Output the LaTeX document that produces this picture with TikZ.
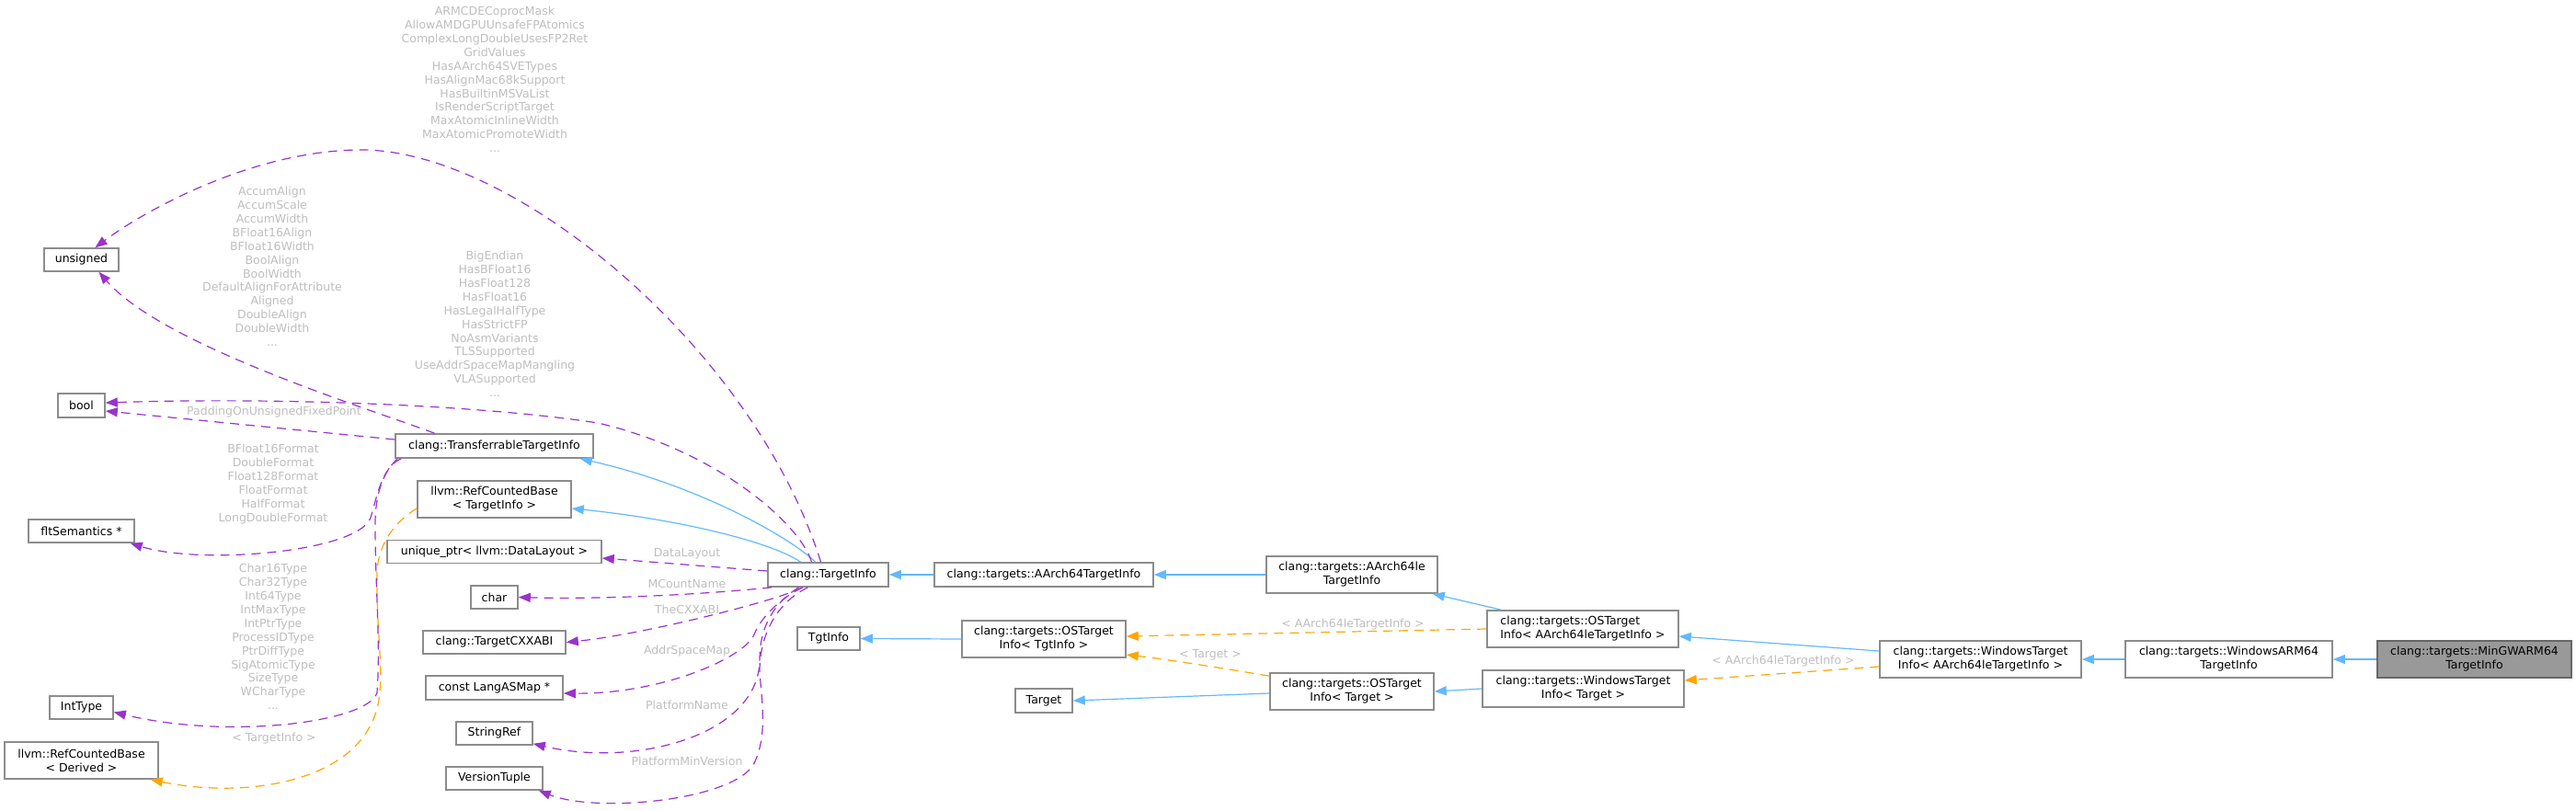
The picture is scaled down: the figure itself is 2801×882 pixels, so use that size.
\documentclass[tikz,border=0pt]{standalone}
\usepackage{fontspec}
\setmainfont{DejaVu Sans}
\usepackage{xcolor}
\usepackage{tikz}
\usetikzlibrary{arrows.meta}
\definecolor{EdgeBlue}{HTML}{63B8FF}
\definecolor{EdgeOrange}{HTML}{FFA500}
\definecolor{EdgePurple}{HTML}{9A32CD}
\definecolor{LabelGrey}{HTML}{BEBEBE}
\definecolor{BoxGrey}{HTML}{8C8C8C}
\definecolor{MainFill}{HTML}{999999}
\definecolor{MainEdge}{HTML}{666666}

\tikzset{
  cls/.style={draw=BoxGrey,fill=white,line width=1.6pt,inner sep=0pt,align=center,font=\fontsize{12.5}{15}\selectfont},
  mainnode/.style={cls,draw=MainEdge,fill=MainFill},
  lbl/.style={text=LabelGrey,inner sep=0pt,align=center,font=\fontsize{12.5}{14.9}\selectfont},
  inh/.style={EdgeBlue,line width=1.2pt,-{Triangle[length=13pt,width=10pt]}},
  tpl/.style={EdgeOrange,line width=1.2pt,dash pattern=on 10pt off 7pt,-{Triangle[length=13pt,width=10pt]}},
  usage/.style={EdgePurple,line width=1.2pt,dash pattern=on 10pt off 7pt,-{Triangle[length=13pt,width=10pt]}}
}

\begin{document}
\begin{tikzpicture}[x=1pt,y=-1pt]
  \useasboundingbox (0,0) rectangle (2801,882);

  % used types, left column
  \node[cls,minimum width=81pt,minimum height=25pt] (unsgn) at (88.5,282.5) {unsigned};
  \node[cls,minimum width=51pt,minimum height=26pt] (bool) at (88.5,441) {bool};
  \node[cls,minimum width=115pt,minimum height=25pt] (flt) at (88.5,577.5) {fltSemantics *};
  \node[cls,minimum width=69pt,minimum height=25pt] (inttype) at (88.5,769.5) {IntType};
  \node[cls,minimum width=167pt,minimum height=40pt] (rcbd) at (88.5,827) {llvm::RefCountedBase\\< Derived >};

  % middle column
  \node[cls,minimum width=215pt,minimum height=26pt] (transf) at (537.5,485) {clang::TransferrableTargetInfo};
  \node[cls,minimum width=167pt,minimum height=40pt] (rcbt) at (537.5,543) {llvm::RefCountedBase\\< TargetInfo >};
  \node[cls,minimum width=233pt,minimum height=25pt] (uptr) at (537.5,600) {unique\_ptr< llvm::DataLayout >};
  \node[cls,minimum width=51pt,minimum height=25pt] (chr) at (537.5,649.5) {char};
  \node[cls,minimum width=155pt,minimum height=25pt] (cxxabi) at (537.5,698.5) {clang::TargetCXXABI};
  \node[cls,minimum width=149pt,minimum height=26pt] (langas) at (537.5,748) {const LangASMap *};
  \node[cls,minimum width=83pt,minimum height=25pt] (strref) at (537.5,797.5) {StringRef};
  \node[cls,minimum width=105pt,minimum height=25pt] (vtuple) at (537.5,846.5) {VersionTuple};

  % class chain
  \node[cls,minimum width=131pt,minimum height=26pt] (tinfo) at (900.5,625) {clang::TargetInfo};
  \node[cls,minimum width=68pt,minimum height=25pt] (tgtinfo) at (901,694.5) {TgtInfo};
  \node[cls,minimum width=238pt,minimum height=26pt] (a64) at (1135,625) {clang::targets::AArch64TargetInfo};
  \node[cls,minimum width=178pt,minimum height=40pt] (ostt) at (1135,695) {clang::targets::OSTarget\\Info< TgtInfo >};
  \node[cls,minimum width=62pt,minimum height=26pt] (target) at (1135,762) {Target};
  \node[cls,minimum width=186pt,minimum height=40pt] (a64le) at (1470,625) {clang::targets::AArch64le\\TargetInfo};
  \node[cls,minimum width=178pt,minimum height=40pt] (ostg) at (1470,752) {clang::targets::OSTarget\\Info< Target >};
  \node[cls,align=left,minimum width=208pt,minimum height=40pt] (osta) at (1721,684) {clang::targets::OSTarget\\Info< AArch64leTargetInfo >};
  \node[cls,minimum width=219pt,minimum height=40pt] (wing) at (1721.5,749) {clang::targets::WindowsTarget\\Info< Target >};
  \node[cls,minimum width=219pt,minimum height=40pt] (wina) at (2153.5,717) {clang::targets::WindowsTarget\\Info< AArch64leTargetInfo >};
  \node[cls,minimum width=225pt,minimum height=40pt] (warm) at (2423.5,717) {clang::targets::WindowsARM64\\TargetInfo};
  \node[mainnode,minimum width=211pt,minimum height=40pt] (mingw) at (2690.5,717) {clang::targets::MinGWARM64\\TargetInfo};

  % inheritance
  \draw[inh] (a64.west) -- (tinfo.east);
  \draw[inh] (a64le.west) -- (a64.east);
  \draw[inh] ([xshift=16pt]osta.north west) -- ([xshift=-6pt]a64le.south east);
  \draw[inh] ([yshift=9pt]wina.west) -- ([yshift=-8pt]osta.east);
  \draw[inh] (warm.west) -- (wina.east);
  \draw[inh] (mingw.west) -- (warm.east);
  \draw[inh] (ostt.west) -- (tgtinfo.east);
  \draw[inh] ([yshift=-2pt]ostg.west) -- (target.east);
  \draw[inh] (wing.west) -- (ostg.east);
  \draw[inh] ([xshift=-14pt]tinfo.north) .. controls (860,585) and (760,528) .. ([xshift=-15pt]transf.south east);
  \draw[inh] ([xshift=-30pt]tinfo.north) .. controls (840,590) and (740,565) .. ([yshift=-10pt]rcbt.east);

  % template instances
  \draw[tpl] ([yshift=-10pt]rcbt.west) .. controls (425,570) and (412,595) .. (410,620)
    .. controls (409,680) and (416,720) .. (413,753)
    .. controls (405,850) and (270,870) .. ([xshift=-9pt]rcbd.south east);
  \draw[tpl] (osta.west) -- ([yshift=3pt]ostt.east);
  \draw[tpl] ([yshift=-4pt]ostg.north west) .. controls (1320,725) and (1260,716) .. ([yshift=-17pt]ostt.east);
  \draw[tpl] ([yshift=-8pt]wina.west) -- ([yshift=9pt]wing.east);

  % members
  \draw[usage] ([xshift=-8pt]tinfo.north) .. controls (820,380) and (560,163) .. (393,163)
    .. controls (280,163) and (163,225) .. ([xshift=15pt]unsgn.north);
  \draw[usage] ([xshift=-65pt]transf.north) .. controls (403,445) and (177,376) .. ([xshift=19pt]unsgn.south);
  \draw[usage] ([xshift=-18pt]tinfo.north) .. controls (870,570) and (780,490) .. (650,460)
    .. controls (520,440) and (300,432) .. ([yshift=3pt]bool.east);
  \draw[usage] ([yshift=7pt]transf.west) -- ([yshift=-6pt]bool.east);
  \draw[usage] ([xshift=7pt]transf.south west) .. controls (415,508) and (410,540) .. (403,563)
    .. controls (390,600) and (220,615) .. ([xshift=-5pt]flt.south east);
  \draw[usage] ([xshift=3pt]transf.south west) .. controls (415,515) and (408,540) .. (408,570)
    .. controls (408,640) and (414,700) .. (410,753)
    .. controls (402,785) and (250,805) .. ([yshift=-5pt]inttype.east);
  \draw[usage] ([yshift=4pt]tinfo.west) -- ([yshift=-7pt]uptr.east);
  \draw[usage] ([xshift=5pt]tinfo.south west) .. controls (760,647) and (650,652) .. (chr.east);
  \draw[usage] ([xshift=-28pt]tinfo.south) .. controls (850,652) and (700,690) .. (cxxabi.east);
  \draw[usage] ([xshift=-28pt]tinfo.south) .. controls (850,650) and (828,670) .. (820,690)
    .. controls (810,715) and (720,755) .. ([yshift=-6pt]langas.east);
  \draw[usage] ([xshift=-32pt]tinfo.south) .. controls (835,660) and (826,690) .. (826,717)
    .. controls (826,800) and (690,835) .. ([yshift=2pt]strref.south east);
  \draw[usage] ([xshift=-22pt]tinfo.south) .. controls (845,655) and (826,690) .. (826,730)
    .. controls (828,760) and (835,800) .. (820,830)
    .. controls (800,870) and (650,885) .. ([xshift=-5pt]vtuple.south east);

  % labels
  \node[lbl,anchor=north] (l-unsgn) at (538,7) {ARMCDECoprocMask\\AllowAMDGPUUnsafeFPAtomics\\ComplexLongDoubleUsesFP2Ret\\GridValues\\HasAArch64SVETypes\\HasAlignMac68kSupport\\HasBuiltinMSVaList\\IsRenderScriptTarget\\MaxAtomicInlineWidth\\MaxAtomicPromoteWidth\\...};
  \node[lbl,anchor=north] (l-accum) at (296,203) {AccumAlign\\AccumScale\\AccumWidth\\BFloat16Align\\BFloat16Width\\BoolAlign\\BoolWidth\\DefaultAlignForAttribute\\Aligned\\DoubleAlign\\DoubleWidth\\...};
  \node[lbl,anchor=north] (l-bool) at (538,273) {BigEndian\\HasBFloat16\\HasFloat128\\HasFloat16\\HasLegalHalfType\\HasStrictFP\\NoAsmVariants\\TLSSupported\\UseAddrSpaceMapMangling\\VLASupported\\...};
  \node[lbl] (l-padding) at (298,448) {PaddingOnUnsignedFixedPoint};
  \node[lbl,anchor=north] (l-flt) at (297,483) {BFloat16Format\\DoubleFormat\\Float128Format\\FloatFormat\\HalfFormat\\LongDoubleFormat};
  \node[lbl,anchor=north] (l-int) at (297,613) {Char16Type\\Char32Type\\Int64Type\\IntMaxType\\IntPtrType\\ProcessIDType\\PtrDiffType\\SigAtomicType\\SizeType\\WCharType\\...};
  \node[lbl] (l-rcb) at (298,803) {< TargetInfo >};
  \foreach \name/\y in {DataLayout/602, MCountName/635, TheCXXABI/663, AddrSpaceMap/708, PlatformName/767, PlatformMinVersion/828} {
    \node[lbl] (l-\name) at (747,\y) {\name};
  }
  \node[lbl] (l-tgt) at (1316,712) {< Target >};
  \node[lbl] (l-osta) at (1471,679) {< AArch64leTargetInfo >};
  \node[lbl] (l-wina) at (1939,719) {< AArch64leTargetInfo >};
\end{tikzpicture}
\end{document}
